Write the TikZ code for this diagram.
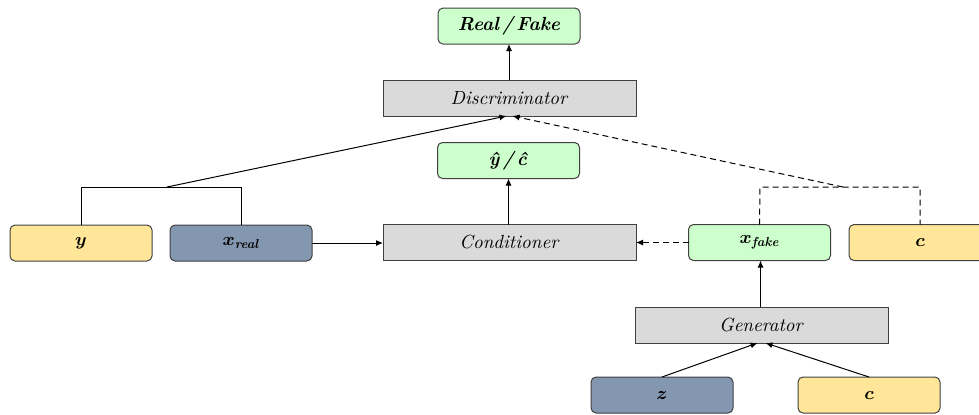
\documentclass[tikz,border=0pt]{standalone}
\usepackage{fontspec}
\usepackage{bm}
\usetikzlibrary{arrows.meta}
\definecolor{boxgreen}{HTML}{CCFFCC}
\definecolor{boxgray}{HTML}{DADADA}
\definecolor{boxyellow}{HTML}{FFE699}
\definecolor{boxblue}{HTML}{8497B0}
\definecolor{edgegray}{HTML}{404040}
\newcommand{\subtxt}[1]{\mbox{\fontsize{6.5}{7}\selectfont\bfseries\itshape #1}}
\tikzset{
  base/.style={draw=edgegray, line width=0.5pt, inner sep=0pt, outer sep=0pt,
    minimum width=71pt, minimum height=18pt, font=\fontsize{9.5}{11}\selectfont},
  rbox/.style={base, rounded corners=2.5pt},
  greenbox/.style={rbox, fill=boxgreen},
  yellowbox/.style={rbox, fill=boxyellow},
  bluebox/.style={rbox, fill=boxblue},
  graybox/.style={base, fill=boxgray, minimum width=126.5pt},
  conn/.style={line width=0.5pt, black},
  arr/.style={conn, -{Latex[length=3.5pt,width=3pt]}},
  darr/.style={arr, dashed, dash pattern=on 3pt off 2pt},
  dline/.style={conn, dashed, dash pattern=on 3pt off 2pt},
}
\begin{document}
\begin{tikzpicture}[x=0.5pt, y=-0.5pt]
\useasboundingbox (0,0) rectangle (979,414);
\node[greenbox] (rf) at (509,26) {\textbf{\textit{Real\,/\,Fake}}};
\node[graybox] (disc) at (509.5,98) {\textit{Discriminator}};
\node[greenbox] (yc) at (508.5,160.5) {\textbf{\textit{ŷ\,/\,ĉ}}};
\node[graybox] (cond) at (509.5,242.5) {\textit{Conditioner}};
\node[yellowbox] (y) at (81,243) {$\bm{y}$};
\node[bluebox] (xr) at (241,243) {$\bm{x}_{\subtxt{real}}$};
\node[greenbox] (xf) at (759.5,242.5) {$\bm{x}_{\subtxt{fake}}$};
\node[yellowbox] (c1) at (920,242.5) {$\bm{c}$};
\node[graybox] (gen) at (761.5,325) {\textit{Generator}};
\node[bluebox] (z) at (662,395) {$\bm{z}$};
\node[yellowbox] (c2) at (869,395) {$\bm{c}$};

\coordinate (jl) at (167,187);
\coordinate (jr) at (843,187);

% real branch
\draw[conn] (y.north) -- (81,187) -- (241,187) -- (xr.north);
\draw[arr] (jl) -- ([xshift=-1.5pt]disc.south);
% fake branch
\draw[dline] (xf.north) -- (760,187) -- (920,187) -- (c1.north);
\draw[darr] (jr) -- ([xshift=1.5pt]disc.south);

\draw[arr] (rf.south |- disc.north) -- (rf.south);
\draw[arr] (yc.south |- cond.north) -- (yc.south);
\draw[arr] (xr.east) -- (xr.east -| cond.west);
\draw[darr] (xf.west) -- (xf.west -| cond.east);
\draw[arr] ([xshift=0.5pt]xf.south |- gen.north) -- ([xshift=0.5pt]xf.south);
\draw[arr] (z.north) -- ([xshift=-2pt]gen.south);
\draw[arr] (c2.north) -- ([xshift=2pt]gen.south);
\end{tikzpicture}
\end{document}
